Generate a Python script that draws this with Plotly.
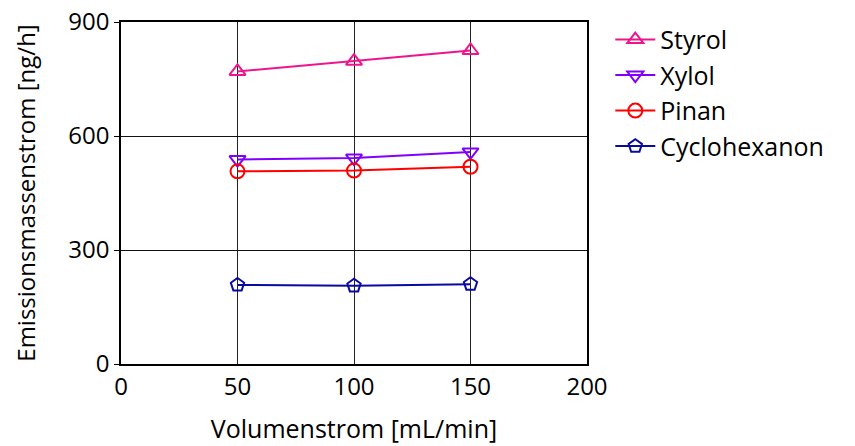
import plotly.graph_objects as go

# Volume flow settings (mL/min)
volumenstrom = [50, 100, 150]

# Emission mass flow per compound (ng/h)
styrol = [770, 797, 825]
xylol = [538, 542, 558]
pinan = [507, 509, 519]
cyclohexanon = [208, 206, 210]

x_ticks = [0, 50, 100, 150, 200]
y_ticks = [0, 300, 600, 900]

series = [
    ("Styrol", styrol, "#f0148c", "triangle-up-open"),
    ("Xylol", xylol, "#8000ff", "triangle-down-open"),
    ("Pinan", pinan, "#ff0000", "circle-open"),
    ("Cyclohexanon", cyclohexanon, "#0a0aa0", "pentagon-open"),
]

fig = go.Figure()
for name, vals, color, symbol in series:
    fig.add_trace(go.Scatter(
        x=volumenstrom, y=vals, name=name, mode="lines+markers",
        line=dict(color=color, width=2),
        marker=dict(symbol=symbol, size=14, color=color,
                    line=dict(color=color, width=2)),
    ))

font_family = "Open Sans, Noto Sans, DejaVu Sans, sans-serif"

fig.update_layout(
    width=855, height=446,
    margin=dict(l=121, r=268, t=22, b=82, autoexpand=False),
    paper_bgcolor="white", plot_bgcolor="white",
    font=dict(family=font_family, size=24, color="black"),
    showlegend=True,
    legend=dict(
        x=1.05, y=1.015, xanchor="left", yanchor="top",
        font=dict(size=25), tracegroupgap=0, itemwidth=40,
        bgcolor="rgba(0,0,0,0)",
    ),
    xaxis=dict(
        range=[0, 200], tickvals=x_ticks, ticktext=[str(v) for v in x_ticks],
        showgrid=True, gridcolor="#222", gridwidth=1,
        showline=True, linecolor="black", linewidth=1.5, mirror=True,
        zeroline=False, ticks="", tickfont=dict(size=24), automargin=False,
        title=dict(text="Volumenstrom [mL/min]", font=dict(size=25), standoff=20),
    ),
    yaxis=dict(
        range=[0, 900], tickvals=y_ticks, ticktext=[str(v) for v in y_ticks],
        showgrid=True, gridcolor="#111", gridwidth=1,
        showline=True, linecolor="black", linewidth=1.5, mirror=True,
        zeroline=False, ticks="outside", ticklen=5, tickcolor="black",
        tickfont=dict(size=24), automargin=False,
        title=dict(text="Emissionsmassenstrom [ng/h]", font=dict(size=24), standoff=26),
    ),
)

fig.write_html("out.html")
